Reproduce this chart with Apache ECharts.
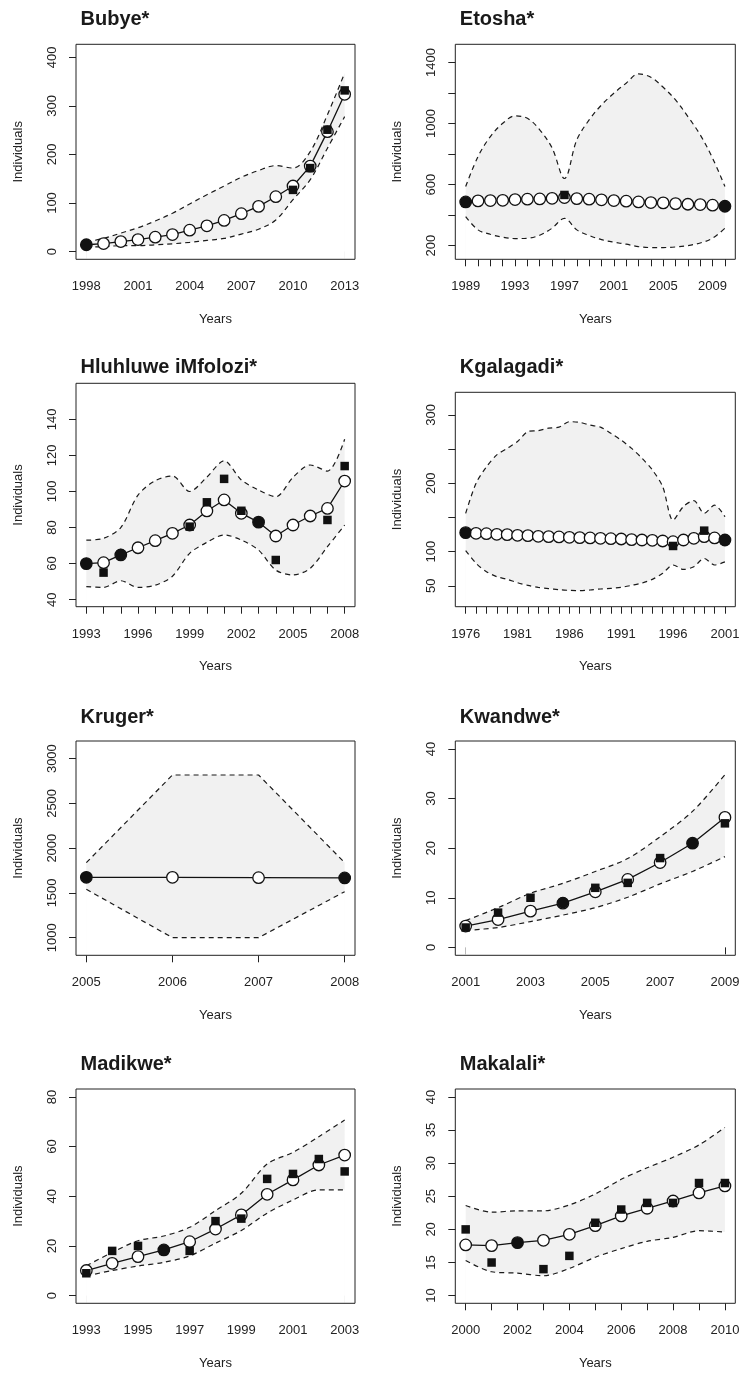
<!DOCTYPE html>
<html>
<head>
<meta charset="utf-8">
<script src="https://cdn.jsdelivr.net/npm/echarts@6/dist/echarts.min.js"></script>
<style>
html,body{margin:0;padding:0;background:#fff;}
#chart{width:743px;height:1374px;}
</style>
</head>
<body>
<div id="chart"></div>
<script>
// ---------------- DATA ----------------
// Bubye
const BUBYE_YEARS = [1998,1999,2000,2001,2002,2003,2004,2005,2006,2007,2008,2009,2010,2011,2012,2013];
const BUBYE_EST   = [14,16.5,20.6,24.7,29.6,35,44,53,64,78,93,113,135,176,247,324];
const BUBYE_LOW   = [9,10,12,12,14,16,19,23,27,36,46,65,107,148,213,278];
const BUBYE_UP    = [20,27,38,49,63,79,98,117,135,153,167,177,172,206,282,368];
const BUBYE_SQ    = [[2010,127],[2011,172],[2012,251],[2013,332]];
const BUBYE_DOT   = [[1998,14]];
const BUBYE_XLAB  = [1998,2001,2004,2007,2010,2013];
const BUBYE_YTICK = [0,100,200,300,400];
const BUBYE_YLAB  = [0,100,200,300,400];

// Etosha
const ETOSHA_YEARS = [1989,1990,1991,1992,1993,1994,1995,1996,1997,1998,1999,2000,2001,2002,2003,2004,2005,2006,2007,2008,2009,2010];
const ETOSHA_EST   = [486,493,495,497,502,504,506,510,515,508,504,500,495,491,486,482,480,475,471,469,465,458];
const ETOSHA_LOW   = [390,303,274,255,246,248,268,314,379,303,266,239,222,209,193,187,187,191,200,217,248,314];
const ETOSHA_UP    = [587,784,915,1002,1050,1035,959,840,640,893,1024,1122,1199,1265,1326,1304,1238,1155,1046,926,773,587];
const ETOSHA_SQ    = [[1989,480],[1997,532]];
const ETOSHA_DOT   = [[1989,486],[2010,458]];
const ETOSHA_XLAB  = [1989,1993,1997,2001,2005,2009];
const ETOSHA_YTICK = [200,400,600,800,1000,1200,1400];
const ETOSHA_YLAB  = [200,600,1000,1400];

// Hluhluwe iMfolozi
const HLUH_YEARS = [1993,1994,1995,1996,1997,1998,1999,2000,2001,2002,2003,2004,2005,2006,2007,2008];
const HLUH_EST   = [60,60.5,64.8,68.8,72.7,76.8,81.4,89.2,95.3,87.9,83,75.3,81.4,86.4,90.6,105.8];
const HLUH_LOW   = [47.2,46.8,50.5,46.8,48,53,65.7,71.8,75.9,73.1,67.5,56.4,53.7,57.4,69.4,81.4];
const HLUH_UP    = [73,74,80,98,106,108.6,100,108,117,106.4,100.8,97.1,107.8,114.7,111.3,129];
const HLUH_SQ    = [[1994,55],[1999,80.5],[2000,94],[2001,107],[2002,89.3],[2004,62],[2007,84.2],[2008,114.1]];
const HLUH_DOT   = [[1993,60],[1995,65],[2003,83]];
const HLUH_XLAB  = [1993,1996,1999,2002,2005,2008];
const HLUH_YTICK = [40,60,80,100,120,140];
const HLUH_YLAB  = [40,60,80,100,120,140];

// Kgalagadi
const KGAL_YEARS = [1976,1977,1978,1979,1980,1981,1982,1983,1984,1985,1986,1987,1988,1989,1990,1991,1992,1993,1994,1995,1996,1997,1998,1999,2000,2001];
const KGAL_EST   = [127.8,126.8,126.3,125.4,124.9,123.9,123.4,122.4,122,121.5,121,120.5,120,119.5,119,118.5,117.6,117,116.6,115.6,114.6,117,119.5,122,120,117];
const KGAL_LOW   = [101.5,83,70.7,63.4,59.5,54.6,50.7,47.8,45.9,44.4,43.4,42.9,43.9,45.4,46.3,47.8,50.7,54,59.5,68.3,80.5,74,78,90,80.5,85];
const KGAL_UP    = [156,200,224,241.5,251,261,275.6,277,280.5,282,290,289,285,282,273,263,251,236.6,219.5,195,146,166,174.6,156,168,151];
const KGAL_SQ    = [[1996,108.3],[1999,130.7],[2001,116]];
const KGAL_DOT   = [[1976,127.8],[2001,117]];
const KGAL_XLAB  = [1976,1981,1986,1991,1996,2001];
const KGAL_YTICK = [50,100,150,200,250,300];
const KGAL_YLAB  = [50,100,200,300];

// Kruger
const KRUG_YEARS = [2005,2006,2007,2008];
const KRUG_EST   = [1674,1674,1670,1667];
const KRUG_LOW   = [1540,1000,1000,1514];
const KRUG_UP    = [1838,2817,2817,1838];
const KRUG_SQ    = [];
const KRUG_DOT   = [[2005,1674],[2008,1667]];
const KRUG_XLAB  = [2005,2006,2007,2008];
const KRUG_YTICK = [1000,1500,2000,2500,3000];
const KRUG_YLAB  = [1000,1500,2000,2500,3000];

// Kwandwe
const KWAN_YEARS = [2001,2002,2003,2004,2005,2006,2007,2008,2009];
const KWAN_EST   = [4.3,5.6,7.3,8.9,11.2,13.7,17.1,21,26.2];
const KWAN_LOW   = [3.4,4,5.2,6.5,8,10.1,12.8,15.3,18.3];
const KWAN_UP    = [5.4,8,10.9,12.9,15.3,17.9,22.3,27.4,34.8];
const KWAN_SQ    = [[2001,4],[2002,7],[2003,10],[2005,12],[2006,13],[2007,18],[2009,25]];
const KWAN_DOT   = [[2004,9],[2008,21]];
const KWAN_XLAB  = [2001,2003,2005,2007,2009];
const KWAN_YTICK = [0,10,20,30,40];
const KWAN_YLAB  = [0,10,20,30,40];

// Madikwe
const MADI_YEARS = [1993,1994,1995,1996,1997,1998,1999,2000,2001,2002,2003];
const MADI_EST   = [10.1,13,15.7,18.4,21.7,26.8,32.5,40.8,46.6,52.6,56.6];
const MADI_LOW   = [7.9,10.1,11.9,13.4,16,21.1,26.2,33.2,38.5,42.6,42.6];
const MADI_UP    = [12,17.4,22.1,24,27.5,34.2,41.2,53,57.7,64,70.7];
const MADI_SQ    = [[1993,9],[1994,18],[1995,20],[1996,18],[1997,18],[1998,30],[1999,31],[2000,47],[2001,49],[2002,55],[2003,50]];
const MADI_DOT   = [[1996,18.4]];
const MADI_XLAB  = [1993,1995,1997,1999,2001,2003];
const MADI_YTICK = [0,20,40,60,80];
const MADI_YLAB  = [0,20,40,60,80];

// Makalali
const MAKA_YEARS = [2000,2001,2002,2003,2004,2005,2006,2007,2008,2009,2010];
const MAKA_EST   = [17.65,17.55,18.0,18.35,19.26,20.57,22.03,23.19,24.29,25.5,26.56];
const MAKA_LOW   = [15.3,13.6,13.4,13.0,14.1,15.8,17.1,18.2,18.8,19.8,19.6];
const MAKA_UP    = [23.6,22.6,22.8,22.8,23.7,25.35,27.56,29.3,30.9,32.75,35.4];
const MAKA_SQ    = [[2000,20],[2001,15],[2003,14],[2004,16],[2005,21],[2006,23],[2007,24],[2008,24],[2009,27],[2010,27]];
const MAKA_DOT   = [[2002,18]];
const MAKA_XLAB  = [2000,2002,2004,2006,2008,2010];
const MAKA_YTICK = [10,15,20,25,30,35,40];
const MAKA_YLAB  = [10,15,20,25,30,35,40];

const TITLES = ['Bubye*','Etosha*','Hluhluwe iMfolozi*','Kgalagadi*','Kruger*','Kwandwe*','Madikwe*','Makalali*'];

// ---------------- LAYOUT (positions / scales) ----------------
const LAYOUT = [
  {left:76,    top:44.3,  right:355,   bottom:259.3,  titleTop:4.5,  xMin:1997.4,  xMax:2013.6,  yMin:-16,  yMax:427,  smooth:0.35},
  {left:455.3, top:44.3,  right:735.3, bottom:259.3,  titleTop:4.5,  xMin:1988.16, xMax:2010.84, yMin:110,  yMax:1520, smooth:0.35},
  {left:76,    top:383.3, right:355,   bottom:606.7,  titleTop:352.5,xMin:1992.4,  xMax:2008.6,  yMin:36.1, yMax:160,  smooth:0.3},
  {left:455.3, top:392.3, right:735.3, bottom:606.7,  titleTop:352.5,xMin:1975,    xMax:2002,    yMin:19.5, yMax:333,  smooth:0.3},
  {left:76,    top:741,   right:355,   bottom:955.3,  titleTop:702,  xMin:2004.88, xMax:2008.12, yMin:803,  yMax:3197, smooth:0},
  {left:455.3, top:741,   right:735.3, bottom:955.3,  titleTop:702,  xMin:2000.68, xMax:2009.32, yMin:-1.6, yMax:41.6, smooth:0.3},
  {left:76,    top:1089,  right:355,   bottom:1303.3, titleTop:1049.5,xMin:1992.6, xMax:2003.4,  yMin:-3.1, yMax:83.2, smooth:0.3},
  {left:455.3, top:1089,  right:735.3, bottom:1303.3, titleTop:1049.5,xMin:1999.6, xMax:2010.4,  yMin:8.84, yMax:41.2, smooth:0.3}
];

const PANEL_DATA = [
  {years:BUBYE_YEARS, est:BUBYE_EST, low:BUBYE_LOW, up:BUBYE_UP, sq:BUBYE_SQ, dot:BUBYE_DOT, xlab:BUBYE_XLAB, ytick:BUBYE_YTICK, ylab:BUBYE_YLAB},
  {years:ETOSHA_YEARS, est:ETOSHA_EST, low:ETOSHA_LOW, up:ETOSHA_UP, sq:ETOSHA_SQ, dot:ETOSHA_DOT, xlab:ETOSHA_XLAB, ytick:ETOSHA_YTICK, ylab:ETOSHA_YLAB},
  {years:HLUH_YEARS, est:HLUH_EST, low:HLUH_LOW, up:HLUH_UP, sq:HLUH_SQ, dot:HLUH_DOT, xlab:HLUH_XLAB, ytick:HLUH_YTICK, ylab:HLUH_YLAB},
  {years:KGAL_YEARS, est:KGAL_EST, low:KGAL_LOW, up:KGAL_UP, sq:KGAL_SQ, dot:KGAL_DOT, xlab:KGAL_XLAB, ytick:KGAL_YTICK, ylab:KGAL_YLAB},
  {years:KRUG_YEARS, est:KRUG_EST, low:KRUG_LOW, up:KRUG_UP, sq:KRUG_SQ, dot:KRUG_DOT, xlab:KRUG_XLAB, ytick:KRUG_YTICK, ylab:KRUG_YLAB},
  {years:KWAN_YEARS, est:KWAN_EST, low:KWAN_LOW, up:KWAN_UP, sq:KWAN_SQ, dot:KWAN_DOT, xlab:KWAN_XLAB, ytick:KWAN_YTICK, ylab:KWAN_YLAB},
  {years:MADI_YEARS, est:MADI_EST, low:MADI_LOW, up:MADI_UP, sq:MADI_SQ, dot:MADI_DOT, xlab:MADI_XLAB, ytick:MADI_YTICK, ylab:MADI_YLAB},
  {years:MAKA_YEARS, est:MAKA_EST, low:MAKA_LOW, up:MAKA_UP, sq:MAKA_SQ, dot:MAKA_DOT, xlab:MAKA_XLAB, ytick:MAKA_YTICK, ylab:MAKA_YLAB}
];

// ---------------- BUILD ----------------
const FONT = '"Liberation Sans", Arial, Helvetica, sans-serif';
const INK = '#111111';
const BAND = '#f1f1f1';
const fmt = v => String(v);

const option = {
  animation: false,
  backgroundColor: '#ffffff',
  title: [], grid: [], xAxis: [], yAxis: [], series: []
};

PANEL_DATA.forEach((P, i) => {
  const L = LAYOUT[i];
  const zip = arr => P.years.map((y, k) => [y, arr[k]]);
  option.title.push({
    text: TITLES[i], left: L.left - 0.5, top: L.titleTop,
    textStyle: {fontSize: 20, fontWeight: 'bold', color: '#1a1a1a', fontFamily: FONT}
  });
  option.grid.push({
    left: L.left, top: L.top, width: L.right - L.left, height: L.bottom - L.top,
    show: true, borderColor: '#222', borderWidth: 1, backgroundColor: 'transparent',
    containLabel: false, outerBoundsMode: 'none', z: 10
  });
  option.xAxis.push({
    gridIndex: i, type: 'value', min: L.xMin, max: L.xMax,
    axisLine: {show: false}, splitLine: {show: false},
    axisTick: {show: true, inside: false, length: 7, customValues: P.years, lineStyle: {color: '#222', width: 1}},
    axisLabel: {show: true, customValues: P.xlab, margin: 21, fontSize: 13, color: '#222', fontFamily: FONT, formatter: fmt},
    name: 'Years', nameLocation: 'middle', nameGap: 53.5,
    nameTextStyle: {fontSize: 13, color: '#222', fontFamily: FONT}
  });
  option.yAxis.push({
    gridIndex: i, type: 'value', min: L.yMin, max: L.yMax,
    axisLine: {show: false}, splitLine: {show: false},
    axisTick: {show: true, inside: false, length: 7, customValues: P.ytick, lineStyle: {color: '#222', width: 1}},
    axisLabel: {show: true, customValues: P.ylab, rotate: 90, margin: 17, fontSize: 13, color: '#222', fontFamily: FONT, formatter: fmt},
    name: 'Individuals', nameLocation: 'middle', nameGap: 51,
    nameTextStyle: {fontSize: 13, color: '#222', fontFamily: FONT}
  });
  const smooth = L.smooth > 0 ? L.smooth : false;
  // band: grey area under upper bound, then white area (twice, to hide seams) under lower bound
  option.series.push({
    type: 'line', xAxisIndex: i, yAxisIndex: i, data: zip(P.up),
    symbol: 'none', smooth: smooth, lineStyle: {opacity: 0},
    areaStyle: {color: BAND, opacity: 1, origin: 'start'}, silent: true, z: 1
  });
  for (let r = 0; r < 2; r++) {
    option.series.push({
      type: 'line', xAxisIndex: i, yAxisIndex: i, data: zip(P.low),
      symbol: 'none', smooth: smooth, lineStyle: {opacity: 0},
      areaStyle: {color: '#ffffff', opacity: 1, origin: 'start'}, silent: true, z: 1
    });
  }
  // dashed CI lines
  [P.low, P.up].forEach(arr => {
    option.series.push({
      type: 'line', xAxisIndex: i, yAxisIndex: i, data: zip(arr),
      symbol: 'none', smooth: smooth,
      lineStyle: {color: '#1a1a1a', width: 1.2, type: [5, 4]}, silent: true, z: 2
    });
  });
  // estimate line with open circles
  option.series.push({
    type: 'line', xAxisIndex: i, yAxisIndex: i, data: zip(P.est),
    symbol: 'circle', symbolSize: 11.5, showSymbol: true, showAllSymbol: true,
    itemStyle: {color: '#ffffff', borderColor: INK, borderWidth: 1.3, opacity: 1},
    lineStyle: {color: INK, width: 1.3}, z: 3
  });
  // filled circles
  option.series.push({
    type: 'scatter', xAxisIndex: i, yAxisIndex: i, data: P.dot,
    symbol: 'circle', symbolSize: 11.5, itemStyle: {color: INK, opacity: 1}, z: 4
  });
  // squares
  option.series.push({
    type: 'scatter', xAxisIndex: i, yAxisIndex: i, data: P.sq,
    symbol: 'rect', symbolSize: 8.5, itemStyle: {color: INK, opacity: 1}, z: 5
  });
});

const chart = echarts.init(document.getElementById('chart'), null, {renderer: 'canvas'});
chart.setOption(option);
</script>
</body>
</html>
